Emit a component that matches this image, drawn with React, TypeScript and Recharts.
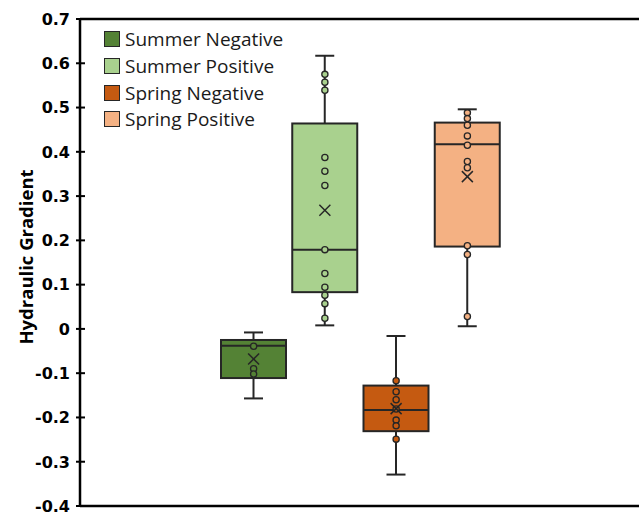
import React from "react";
import {
  ComposedChart,
  Bar,
  Scatter,
  XAxis,
  YAxis,
  Legend,
  Label,
  ReferenceLine,
} from "recharts";

// box plot summary values, one entry per category
const categories = ["Summer Negative", "Summer Positive", "Spring Negative", "Spring Positive"];
const lowerWhisker = [-0.157, 0.008, -0.329, 0.006];
const lowerQuartile = [-0.111, 0.083, -0.231, 0.186];
const medians = [-0.038, 0.179, -0.183, 0.417];
const upperQuartile = [-0.025, 0.464, -0.128, 0.466];
const upperWhisker = [-0.008, 0.617, -0.016, 0.496];
const means = [-0.068, 0.268, -0.18, 0.344];

// individual observations
const summerNegativePoints = [-0.039, -0.09, -0.102];
const summerPositivePoints = [0.575, 0.557, 0.539, 0.387, 0.356, 0.324, 0.179, 0.125, 0.094, 0.076, 0.057, 0.024];
const springNegativePoints = [-0.117, -0.142, -0.16, -0.181, -0.206, -0.219, -0.249];
const springPositivePoints = [0.488, 0.475, 0.46, 0.436, 0.415, 0.378, 0.364, 0.188, 0.168, 0.028];

const yTicks = [-0.4, -0.3, -0.2, -0.1, 0, 0.1, 0.2, 0.3, 0.4, 0.5, 0.6, 0.7];

const COLORS = ["#548235", "#A9D18E", "#C55A11", "#F4B183"];
const INK = "#262626";

const pointSets = [summerNegativePoints, summerPositivePoints, springNegativePoints, springPositivePoints];

const boxData = categories.map((name, i) => ({
  name,
  lo: lowerWhisker[i],
  q1: lowerQuartile[i],
  med: medians[i],
  q3: upperQuartile[i],
  hi: upperWhisker[i],
  box: [lowerQuartile[i], upperQuartile[i]],
  color: COLORS[i],
}));

const meanData = categories.map((name, i) => ({ name, value: means[i] }));

const BoxShape = (props: any) => {
  const { x, y, width, height, payload } = props;
  const top = Math.min(y, y + height);
  const h = Math.abs(height);
  const k = h / (payload.q3 - payload.q1);
  const py = (v: number) => top + (payload.q3 - v) * k;
  const cx = x + width / 2;
  const cap = 9.5;
  return (
    <g>
      <line x1={cx} x2={cx} y1={py(payload.hi)} y2={top} stroke={INK} strokeWidth={2} />
      <line x1={cx} x2={cx} y1={top + h} y2={py(payload.lo)} stroke={INK} strokeWidth={2} />
      <line x1={cx - cap} x2={cx + cap} y1={py(payload.hi)} y2={py(payload.hi)} stroke={INK} strokeWidth={2} />
      <line x1={cx - cap} x2={cx + cap} y1={py(payload.lo)} y2={py(payload.lo)} stroke={INK} strokeWidth={2} />
      <rect x={x} y={top} width={width} height={h} fill={payload.color} stroke={INK} strokeWidth={2} />
      <line x1={x} x2={x + width} y1={py(payload.med)} y2={py(payload.med)} stroke={INK} strokeWidth={2} />
    </g>
  );
};

const PointShape = (props: any) => (
  <circle cx={props.cx} cy={props.cy} r={3.1} fill={props.fill} stroke={INK} strokeWidth={1.3} />
);

const MeanShape = (props: any) => {
  const { cx, cy } = props;
  const s = 5.5;
  return (
    <g stroke={INK} strokeWidth={1.5}>
      <line x1={cx - s} x2={cx + s} y1={cy - s} y2={cy + s} />
      <line x1={cx - s} x2={cx + s} y1={cy + s} y2={cy - s} />
    </g>
  );
};

const YTick = (props: any) => {
  const { x, y, payload } = props;
  return (
    <g>
      <line x1={x - 4} x2={x + 5} y1={y} y2={y} stroke="#000" strokeWidth={2} />
      <text
        x={x - 10}
        y={y}
        dy={5.8}
        textAnchor="end"
        fontFamily="DejaVu Sans"
        fontWeight="bold"
        fontSize={16}
        fill="#000"
      >
        {String(payload.value)}
      </text>
    </g>
  );
};

const renderLegend = () => (
  <div style={{ fontFamily: "Open Sans", fontSize: 19, color: "#1a1a1a" }}>
    {categories.map((c, i) => (
      <div key={c} style={{ display: "flex", alignItems: "center", height: 26.7 }}>
        <div
          style={{
            width: 14,
            height: 14,
            background: COLORS[i],
            border: `1px solid ${INK}`,
            marginRight: 5,
          }}
        />
        <span style={{ lineHeight: "26px" }}>{c}</span>
      </div>
    ))}
  </div>
);

export default function App() {
  return (
    <div style={{ position: "absolute", left: 0, top: 0, width: 641, height: 512, background: "#fff" }}>
      <ComposedChart
        width={641}
        height={512}
        data={boxData}
        margin={{ top: 19, right: 2, bottom: 5, left: 0 }}
      >
        <XAxis
          dataKey="name"
          type="category"
          allowDuplicatedCategory={false}
          padding={{ left: 138, right: 136 }}
          tick={false}
          tickLine={false}
          axisLine={{ stroke: "#000", strokeWidth: 2.5 }}
          height={1}
        />
        <YAxis
          type="number"
          domain={[-0.4, 0.7]}
          ticks={yTicks}
          width={80}
          tickSize={0}
          tickMargin={0}
          tickLine={false}
          tick={<YTick />}
          axisLine={{ stroke: "#000", strokeWidth: 2.5 }}
          interval={0}
        >
          <Label
            content={() => (
              <text
                transform="translate(33,257) rotate(-90)"
                textAnchor="middle"
                fontFamily="Open Sans"
                fontWeight="bold"
                fontSize={18.5}
                fill="#000"
              >
                Hydraulic Gradient
              </text>
            )}
          />
        </YAxis>
        <ReferenceLine y={0.7} stroke="#000" strokeWidth={2.5} />
        <Bar dataKey="box" barSize={65} shape={<BoxShape />} isAnimationActive={false} />
        {categories.map((c, i) => (
          <Scatter
            key={c}
            data={pointSets[i].map((v) => ({ name: c, value: v }))}
            dataKey="value"
            fill={COLORS[i]}
            shape={<PointShape />}
            isAnimationActive={false}
          />
        ))}
        <Scatter data={meanData} dataKey="value" shape={<MeanShape />} isAnimationActive={false} />
        <Legend
          layout="vertical"
          align="center"
          verticalAlign="middle"
          content={renderLegend}
          wrapperStyle={{ top: 26, left: 104, width: "auto" }}
        />
      </ComposedChart>
    </div>
  );
}
